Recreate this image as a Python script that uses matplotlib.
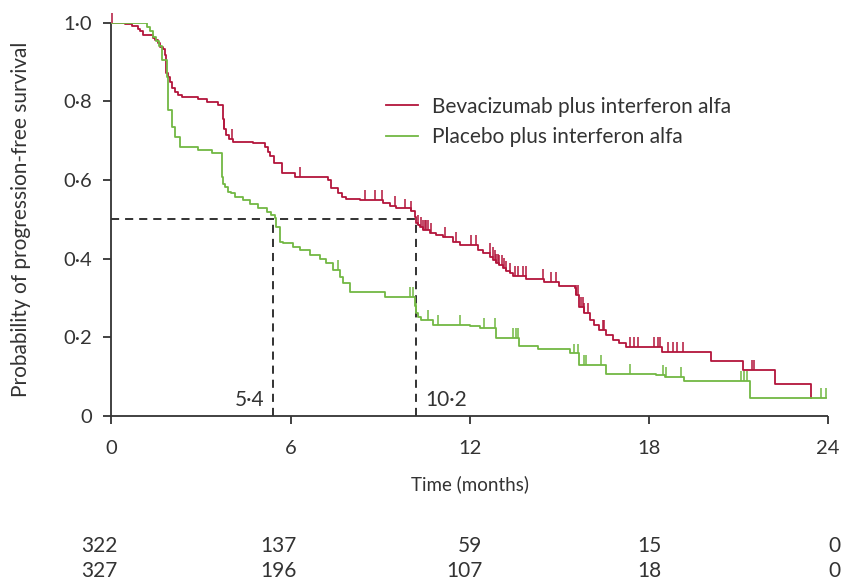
import numpy as np
import matplotlib
matplotlib.use("Agg")
import matplotlib.pyplot as plt
from matplotlib.lines import Line2D

plt.rcParams['font.family'] = ['Lato', 'DejaVu Sans']

# Kaplan-Meier steps (time in months, survival after the step)
bev_t = [0, 0.46, 0.68, 0.90, 0.95, 1.07, 1.40, 1.46, 1.57, 1.64, 1.73, 1.79, 1.82, 1.90,
         1.96, 2.02, 2.13, 2.24, 2.35, 2.91, 3.20, 3.58, 3.73, 3.77, 3.85, 3.95, 4.07, 4.75,
         5.15, 5.25, 5.30, 5.45, 5.70, 6.15, 7.26, 7.37, 7.59, 7.71, 7.87, 8.32, 9.10, 9.32,
         9.55, 10.05, 10.16, 10.22, 10.28, 10.33, 10.44, 10.66, 10.89, 11.11, 11.45, 11.67,
         12.28, 12.45, 12.70, 12.80, 12.89, 13.00, 13.12, 13.23, 13.34, 13.45, 13.90, 14.51,
         15.01, 15.52, 15.57, 15.68, 15.85, 16.02, 16.18, 16.35, 16.58, 16.80, 17.02, 17.24,
         18.45, 20.09, 21.15, 22.24, 23.44]
bev_s = [1.0, 0.997, 0.992, 0.983, 0.978, 0.969, 0.962, 0.956, 0.948, 0.938, 0.932, 0.919,
         0.872, 0.863, 0.850, 0.833, 0.825, 0.816, 0.810, 0.805, 0.799, 0.790, 0.755, 0.730,
         0.715, 0.705, 0.698, 0.693, 0.685, 0.672, 0.660, 0.643, 0.619, 0.608, 0.600, 0.579,
         0.567, 0.558, 0.552, 0.549, 0.541, 0.534, 0.528, 0.522, 0.505, 0.490, 0.486, 0.480,
         0.473, 0.466, 0.460, 0.456, 0.443, 0.435, 0.422, 0.414, 0.405, 0.397, 0.388, 0.384,
         0.376, 0.370, 0.363, 0.356, 0.348, 0.342, 0.331, 0.325, 0.308, 0.278, 0.262, 0.244,
         0.232, 0.219, 0.206, 0.193, 0.185, 0.176, 0.163, 0.141, 0.117, 0.081, 0.045]
bev_cens = [0.02, 3.77, 4.03, 6.31, 8.49, 8.82, 9.05, 9.49, 9.83, 10.05, 10.28, 10.38, 10.45,
            10.50, 10.55, 10.60, 10.72, 11.17, 11.56, 12.06, 12.22, 12.67, 12.78, 12.85, 12.90,
            12.95, 13.00, 13.10, 13.17, 13.23, 13.34, 13.51, 13.62, 13.80, 13.88, 14.46, 14.73,
            14.90, 15.57, 15.63, 15.74, 15.80, 15.85, 15.96, 16.46, 16.52, 17.36, 17.52, 17.64,
            18.19, 18.30, 18.38, 18.64, 18.81, 18.95, 19.14, 21.46, 21.54]

pla_t = [0, 1.18, 1.29, 1.40, 1.51, 1.59, 1.70, 1.85, 1.90, 2.02, 2.13, 2.30, 2.91, 3.36,
         3.69, 3.75, 3.80, 3.91, 4.00, 4.14, 4.42, 4.64, 4.92, 5.20, 5.36, 5.47, 5.53, 5.64,
         5.75, 6.09, 6.31, 6.65, 6.98, 7.20, 7.43, 7.65, 7.76, 7.98, 9.16, 10.16, 10.20, 10.27,
         10.38, 10.78, 12.00, 12.34, 12.89, 13.67, 14.29, 15.35, 15.65, 16.58, 18.25, 18.56,
         19.20, 21.39, 23.94]
pla_s = [1.0, 0.990, 0.980, 0.965, 0.953, 0.940, 0.905, 0.863, 0.778, 0.736, 0.710, 0.685,
         0.676, 0.668, 0.608, 0.590, 0.583, 0.570, 0.566, 0.558, 0.549, 0.540, 0.528, 0.519,
         0.511, 0.503, 0.481, 0.443, 0.439, 0.430, 0.422, 0.409, 0.400, 0.388, 0.371, 0.354,
         0.337, 0.316, 0.303, 0.280, 0.262, 0.252, 0.244, 0.231, 0.228, 0.224, 0.198, 0.179,
         0.170, 0.159, 0.130, 0.107, 0.104, 0.100, 0.089, 0.045, 0.045]
pla_cens = [7.60, 9.99, 10.10, 10.22, 10.61, 10.94, 11.67, 12.50, 12.84, 13.45, 13.55, 13.62,
            15.51, 15.63, 15.85, 15.90, 16.41, 17.36, 18.47, 18.58, 19.09, 21.09, 21.20, 21.30,
            23.77, 23.94]

medians = [5.4, 10.2]
median_labels = ['5·4', '10·2']

x_ticks = [0, 6, 12, 18, 24]
y_ticks = [0, 0.2, 0.4, 0.6, 0.8, 1.0]
y_labels = ['0', '0·2', '0·4', '0·6', '0·8', '1·0']
risk_bev = [322, 137, 59, 15, 0]
risk_pla = [327, 196, 107, 18, 0]

red = '#b3153b'
green = '#72b843'
ink = '#333333'

fig = plt.figure(figsize=(8.41, 5.83), dpi=100)
ax = fig.add_axes([0.1325, 0.2864, 0.8517, 0.6746])


def survival_at(ts, ss, x):
    idx = np.searchsorted(ts, x, side='right') - 1
    return np.array(ss)[idx]


for ts, ss, cens, col in [(bev_t, bev_s, bev_cens, red), (pla_t, pla_s, pla_cens, green)]:
    ax.step(ts, ss, where='post', color=col, lw=1.3, zorder=3)
    cy = survival_at(ts, ss, cens)
    ax.vlines(cens, cy, cy + 0.025, color=col, lw=1.1, zorder=3, clip_on=False)

# median lines
dash = (0, (4.5, 3.3))
ax.plot([0, medians[1]], [0.5, 0.5], color='#222222', lw=1.3, linestyle=dash, zorder=2)
for m in medians:
    ax.plot([m, m], [0, 0.5], color='#222222', lw=1.3, linestyle=dash, zorder=2)
ax.annotate(median_labels[0], (medians[0], 0.04), xytext=(-6, 0), textcoords='offset points',
            ha='right', va='center', fontsize=15, color=ink)
ax.annotate(median_labels[1], (medians[1], 0.04), xytext=(7, 0), textcoords='offset points',
            ha='left', va='center', fontsize=15, color=ink)

ax.set_xlim(0, 24)
ax.set_ylim(0, 1)
for side in ['top', 'right']:
    ax.spines[side].set_visible(False)
for side in ['left', 'bottom']:
    ax.spines[side].set_color(ink)
    ax.spines[side].set_linewidth(1.3)
    ax.spines[side].set_capstyle('butt')

ax.set_xticks(x_ticks)
ax.set_xticklabels([str(v) for v in x_ticks])
ax.set_yticks(y_ticks)
ax.set_yticklabels(y_labels)
ax.tick_params(axis='both', direction='out', length=6, width=1.3, color=ink,
               labelsize=14.5, labelcolor=ink)
ax.tick_params(axis='x', pad=11)
ax.tick_params(axis='y', pad=8)
for lab in ax.get_xticklabels() + ax.get_yticklabels():
    lab.set_clip_on(False)

ax.set_ylabel('Probability of progression-free survival', fontsize=15, color=ink)
ax.yaxis.set_label_coords(-0.112, 0.5)
ax.set_xlabel('Time (months)', fontsize=13.5, color=ink)
ax.xaxis.set_label_coords(0.5, -0.15)

handles = [Line2D([], [], color=red, lw=1.3), Line2D([], [], color=green, lw=1.3)]
ax.legend(handles, ['Bevacizumab plus interferon alfa', 'Placebo plus interferon alfa'],
          loc='upper left', bbox_to_anchor=(0.383, 0.812), frameon=False, fontsize=15,
          handlelength=1.55, handletextpad=0.65, labelspacing=0.5, borderaxespad=0,
          borderpad=0, labelcolor=ink)

# numbers at risk, right aligned with the tick labels
for row, y in [(risk_bev, -0.33), (risk_pla, -0.394)]:
    for t, n in zip(x_ticks, row):
        off = 4.6 * len(str(t))
        ax.annotate(str(n), (t, y), xycoords=('data', 'axes fraction'), xytext=(off, 0),
                    textcoords='offset points', ha='right', va='center', fontsize=15,
                    color=ink, annotation_clip=False)

fig.savefig('out.png', dpi=100)
